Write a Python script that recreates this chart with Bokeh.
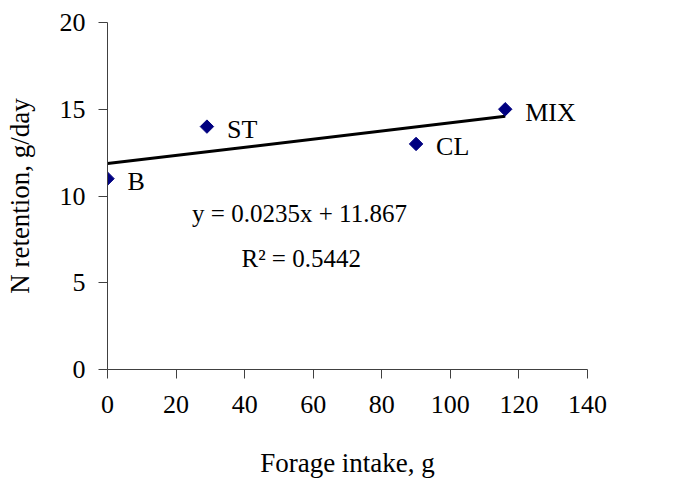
import numpy as np
from bokeh.plotting import figure
from bokeh.models import Range1d, FixedTicker, ColumnDataSource, Label
from bokeh.core.properties import value
from bokeh.embed import file_html
from bokeh.resources import INLINE

# Data
labels = ["B", "ST", "CL", "MIX"]
forage = [0, 29, 90, 116]
n_ret = [11, 14, 13, 15]
x_ticks = [0, 20, 40, 60, 80, 100, 120, 140]
y_ticks = [0, 5, 10, 15, 20]
eq_text = "y = 0.0235x + 11.867"
r2_text = "R\u00b2 = 0.5442"

FONT = "Liberation Serif"

p = figure(width=664, height=480, x_range=Range1d(0, 140), y_range=Range1d(0, 20),
           output_backend="svg", toolbar_location=None,
           min_border_left=107, min_border_right=77, min_border_top=22, min_border_bottom=107)
p.outline_line_color = None
p.xgrid.visible = False
p.ygrid.visible = False
p.background_fill_color = "white"
p.border_fill_color = "white"

for ax in (p.xaxis[0], p.yaxis[0]):
    ax.axis_line_color = "#404040"
    ax.major_tick_line_color = "#404040"
    ax.minor_tick_line_color = None
    ax.major_tick_in = 0
    ax.major_tick_out = 9
    ax.major_label_text_font = FONT
    ax.major_label_text_font_size = "26px"
    ax.major_label_text_color = "black"
    ax.axis_label_text_font = FONT
    ax.axis_label_text_font_size = "27px"
    ax.axis_label_text_font_style = "normal"
    ax.axis_label_text_color = "black"

p.xaxis[0].ticker = FixedTicker(ticks=x_ticks)
p.yaxis[0].ticker = FixedTicker(ticks=y_ticks)
p.xaxis[0].axis_label = "Forage intake, g"
p.yaxis[0].axis_label = "N retention, g/day"
p.xaxis[0].major_label_standoff = 17
p.xaxis[0].axis_label_standoff = 32
p.yaxis[0].major_label_standoff = 13
p.yaxis[0].axis_label_standoff = 22

# trend line from least squares fit
slope, intercept = np.polyfit(forage, n_ret, 1)
xl = [min(forage), max(forage)]
yl = [slope * v + intercept for v in xl]
p.line(xl, yl, line_color="black", line_width=3)

src = ColumnDataSource(dict(x=forage, y=n_ret, lab=labels))
p.scatter("x", "y", source=src, marker="square", size=9.5, angle=np.pi / 4,
          fill_color="#000080", line_color="#000080")
p.text("x", "y", text="lab", source=src, x_offset=20, y_offset=3,
       text_font=value(FONT), text_font_size="26px", text_baseline="middle",
       text_color="black")

p.add_layout(Label(x=56, y=9.0, text=eq_text, text_align="center", text_baseline="middle",
                   text_font=FONT, text_font_size="25px", text_color="black"))
p.add_layout(Label(x=56.5, y=6.4, text=r2_text, text_align="center", text_baseline="middle",
                   text_font=FONT, text_font_size="25px", text_color="black"))

open("out.html", "w").write(file_html(p, INLINE))
